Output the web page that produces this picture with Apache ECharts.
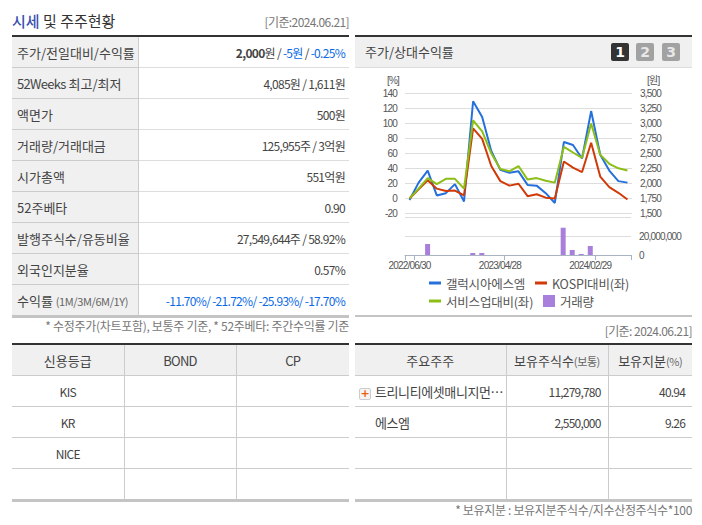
<!DOCTYPE html>
<html>
<head>
<meta charset="utf-8">
<script src="https://cdn.jsdelivr.net/npm/echarts@6/dist/echarts.min.js"></script>
<style>
  html, body { margin: 0; padding: 0; background: #fff; }
  body { width: 702px; height: 525px; position: relative; overflow: hidden;
    font-family: "Noto Sans CJK KR", "Noto Sans", sans-serif; font-size: 12px; color: #444; }
  .abs { position: absolute; white-space: nowrap; line-height: 16px; }
  .gray { color: #777; }
  table { position: absolute; border-collapse: collapse; table-layout: fixed; }
  td, th { font-weight: normal; padding: 0; overflow: hidden; white-space: nowrap; }
  .blue { color: #0a6ae6; }
  .tight { letter-spacing: -0.7px; }

  #summary { left: 12px; top: 37px; width: 337px; border-bottom: 3px solid #c4c4c4; }
  #summary td { height: 30px; border-bottom: 1px solid #ddd; text-align: right; padding-right: 4px; letter-spacing: -0.7px; }
  #summary td.lbl { background: #f0f0f0; text-align: left; padding: 0 0 0 5px; font-size: 13px; letter-spacing: 0;
    border-right: 1px solid #ccc; border-bottom-color: #ccc; }
  #summary tr:last-child td { border-bottom: 0; }
  .small { font-size: 11px; color: #666; letter-spacing: -0.4px; }

  .grid { top: 345px; width: 337px; border-bottom: 3px solid #c4c4c4; }
  .grid th { height: 30px; background: #f0f0f0; border-bottom: 1px solid #ccc; border-right: 1px solid #ccc; font-size: 13px; }
  .grid td { height: 30px; border-bottom: 1px solid #ccc; border-right: 1px solid #ccc; text-align: center; font-size: 12px; }
  .grid tr:last-child td { border-bottom: 0; }
  .grid th:last-child, .grid td:last-child { border-right: 0; }
  .grid td.num { text-align: right; padding-right: 7px; letter-spacing: -0.8px; }
  .grid td.name { text-align: left; padding-left: 20px; font-size: 13px; letter-spacing: -0.4px; }

  .bar { position: absolute; height: 2px; background: #333; }
  #chartHead { position: absolute; left: 355px; top: 37px; width: 337px; height: 30px; background: #f0f0f0; border-bottom: 1px solid #ddd; }
  .btn { position: absolute; top: 43px; width: 18px; height: 18px; border-radius: 2px; background: #a2a2a2; color: #e8e8e8;
    font: bold 14px/18px "DejaVu Sans", sans-serif; text-align: center; }
  #main { position: absolute; left: 355px; top: 68px; width: 337px; height: 247px; }
  /* svg text can be tightened from css, the reference font is much narrower */
  #main text { letter-spacing: -0.2px; }
  #main text[style*="Liberation"] { letter-spacing: -0.8px; }
  #chartFoot { position: absolute; left: 355px; top: 315px; width: 337px; height: 2px; background: #c4c4c4; }
  .plus { position: absolute; left: 359px; top: 388px; width: 10px; height: 10px; border: 1px solid #ccc; border-radius: 2px; background: #f4f4f4;
    color: #f06010; font: bold 11px/10px "DejaVu Sans", sans-serif; text-align: center; }
</style>
</head>
<body>
<div class="abs" style="left:12px;top:12px;font-size:15px;line-height:18px;color:#333"><b style="color:#3a4fb0;font-weight:500">시세</b> 및 주주현황</div>
<div class="abs gray" style="right:353px;top:14px;letter-spacing:-0.6px">[기준:2024.06.21]</div>
<div class="bar" style="left:12px;top:35px;width:337px"></div>
<table id="summary">
  <colgroup><col style="width:126px"><col></colgroup>
  <tr><td class="lbl">주가/전일대비/수익률</td><td><b>2,000</b>원 / <span class="blue">-5원</span> / <span class="blue">-0.25%</span></td></tr>
  <tr><td class="lbl"><span class="tight">52Weeks</span> 최고/최저</td><td>4,085원 / 1,611원</td></tr>
  <tr><td class="lbl">액면가</td><td>500원</td></tr>
  <tr><td class="lbl">거래량/거래대금</td><td>125,955주 / 3억원</td></tr>
  <tr><td class="lbl">시가총액</td><td>551억원</td></tr>
  <tr><td class="lbl">52주베타</td><td>0.90</td></tr>
  <tr><td class="lbl">발행주식수/유동비율</td><td>27,549,644주 / 58.92%</td></tr>
  <tr><td class="lbl">외국인지분율</td><td>0.57%</td></tr>
  <tr><td class="lbl">수익률 <span class="small">(1M/3M/6M/1Y)</span></td><td class="blue">-11.70%/ -21.72%/ -25.93%/ -17.70%</td></tr>
</table>
<div class="abs gray" style="right:353px;top:318px;letter-spacing:-0.3px">* 수정주가(차트포함), 보통주 기준, * 52주베타: 주간수익률 기준</div>

<div class="bar" style="left:355px;top:35px;width:337px"></div>
<div id="chartHead"></div>
<div class="abs" style="left:365px;top:44px;font-size:13px">주가/상대수익률</div>
<div class="btn" style="left:611px;background:#333;color:#fff">1</div>
<div class="btn" style="left:636px">2</div>
<div class="btn" style="left:662px">3</div>
<div id="main"></div>
<div id="chartFoot"></div>
<div class="abs gray" style="right:10px;top:323px;letter-spacing:-0.55px">[기준: 2024.06.21]</div>

<div class="bar" style="left:12px;top:343px;width:337px"></div>
<table class="grid" style="left:12px">
  <colgroup><col style="width:112px"><col style="width:112px"><col></colgroup>
  <tr><th>신용등급</th><th class="tight">BOND</th><th class="tight">CP</th></tr>
  <tr><td class="tight">KIS</td><td></td><td></td></tr>
  <tr><td class="tight">KR</td><td></td><td></td></tr>
  <tr><td class="tight">NICE</td><td></td><td></td></tr>
  <tr><td></td><td></td><td></td></tr>
</table>

<div class="bar" style="left:355px;top:343px;width:337px"></div>
<table class="grid" style="left:355px">
  <colgroup><col style="width:151px"><col style="width:102px"><col></colgroup>
  <tr><th>주요주주</th><th>보유주식수<span class="small">(보통)</span></th><th>보유지분<span class="small">(%)</span></th></tr>
  <tr><td class="name">트리니티에셋매니지먼…</td><td class="num">11,279,780</td><td class="num">40.94</td></tr>
  <tr><td class="name">에스엠</td><td class="num">2,550,000</td><td class="num">9.26</td></tr>
  <tr><td></td><td></td><td></td></tr>
  <tr><td></td><td></td><td></td></tr>
</table>
<div class="plus">+</div>
<div class="abs gray" style="right:10px;top:502px;letter-spacing:-0.33px">* 보유지분 : 보유지분주식수/지수산정주식수*100</div>

<script>
// Month-end dates on the shared x axis
const dates = [
  '2022/06/30', '2022/07/29', '2022/08/31', '2022/09/30', '2022/10/31',
  '2022/11/30', '2022/12/29', '2023/01/31', '2023/02/28', '2023/03/31',
  '2023/04/28', '2023/05/31', '2023/06/30', '2023/07/31', '2023/08/31',
  '2023/09/27', '2023/10/31', '2023/11/30', '2023/12/28', '2024/01/31',
  '2024/02/29', '2024/03/29', '2024/04/30', '2024/05/31', '2024/06/21'
];

const galaxiaSm = [-2, 21, 37, 4, 7, 19, -4, 129, 108, 63, 38, 34, 36, 18, 17, 7, -6, 75, 71, 53, 116, 58, 37, 23, 21];
const kospiRel = [0, 12, 24, 13, 10, 10.5, 4, 93, 79, 43, 23, 17, 19.5, 3, 5.5, 1, 0, 49, 41, 35, 74, 29, 15, 7.5, -1.5];
const serviceRel = [0, 13, 27, 19, 26, 26, 13, 103.5, 89, 60, 39, 36, 43, 25, 27, 23.5, 21, 68.5, 61, 54, 99.5, 58, 46, 40, 37];
const volume = [0, 0, 11600000, 0, 0, 0, 0, 2100000, 2100000, 0, 0, 0, 0, 0, 0, 0, 0, 28700000, 5300000, 1050000, 9500000, 0, 0, 0, 0];

const BLUE = '#2670dc';
const RED = '#d03a08';
const GREEN = '#8cbe16';
const PURPLE = '#a97fdc';
const TEXT = '#555';
const GRID = '#ddd';
const AXIS = '#a9b3c2';

const tickCats = [0, 1, 11, 21];
const labelFont = { color: TEXT, fontSize: 10, fontFamily: '"Liberation Sans", "Noto Sans CJK KR", sans-serif' };

function legendItem(name, left, top, h) {
  return {
    data: [name], left, top, icon: 'rect', itemWidth: 12, itemHeight: h, padding: 0,
    itemStyle: { borderWidth: 0 }, lineStyle: { width: 0 },
    textStyle: { color: TEXT, fontSize: 12.5, lineHeight: 14, fontFamily: '"Noto Sans CJK KR", sans-serif' }
  };
}

const chart = echarts.init(document.getElementById('main'), null, { renderer: 'svg' });
chart.setOption({
  animation: false,
  grid: [
    { left: 50, right: 60, top: 25, height: 120.5 },
    { left: 50, right: 60, top: 149, height: 38 }
  ],
  legend: [
    legendItem('갤럭시아에스엠', 74, 208, 3),
    legendItem('KOSPI대비(좌)', 180, 208, 3),
    legendItem('서비스업대비(좌)', 74, 226, 3),
    legendItem('거래량', 188, 226, 12)
  ],
  xAxis: [
    { type: 'category', gridIndex: 0, data: dates, axisLine: { show: false }, axisTick: { show: false }, axisLabel: { show: false } },
    {
      type: 'category', gridIndex: 1, data: dates,
      axisLine: { lineStyle: { color: AXIS } },
      axisTick: { show: true, length: 5, lineStyle: { color: AXIS }, interval: (i) => tickCats.includes(i) },
      axisLabel: { ...labelFont, margin: 5, interval: (i) => i % 10 === 0 }
    }
  ],
  yAxis: [
    {
      type: 'value', gridIndex: 0, min: -20, max: 140, interval: 20,
      name: '[%]', nameGap: 8, nameTextStyle: { ...labelFont, align: 'right', padding: [0, 6, 0, 0] },
      axisLine: { show: false }, axisTick: { show: false },
      axisLabel: { ...labelFont, margin: 8 }, splitLine: { lineStyle: { color: GRID, width: 1 } }
    },
    {
      type: 'value', gridIndex: 0, position: 'right', min: 1500, max: 3500, interval: 250,
      name: '[원]', nameGap: 8, nameTextStyle: { ...labelFont, align: 'left', padding: [0, 0, 0, 15] },
      axisLine: { show: false }, axisTick: { show: false },
      axisLabel: { ...labelFont, margin: 8, formatter: (v) => v.toLocaleString('en-US') }, splitLine: { show: false }
    },
    {
      type: 'value', gridIndex: 1, position: 'right', min: 0, max: 40000000, interval: 20000000,
      axisLine: { show: false }, axisTick: { show: false },
      axisLabel: { ...labelFont, margin: 8, showMaxLabel: false, formatter: (v) => v.toLocaleString('en-US') },
      splitLine: { lineStyle: { color: GRID, width: 1 } }
    }
  ],
  series: [
    { name: '갤럭시아에스엠', type: 'line', data: galaxiaSm, symbol: 'none', lineStyle: { color: BLUE, width: 2 }, itemStyle: { color: BLUE } },
    { name: 'KOSPI대비(좌)', type: 'line', data: kospiRel, symbol: 'none', lineStyle: { color: RED, width: 2 }, itemStyle: { color: RED } },
    { name: '서비스업대비(좌)', type: 'line', data: serviceRel, symbol: 'none', lineStyle: { color: GREEN, width: 2 }, itemStyle: { color: GREEN } },
    { name: '거래량', type: 'bar', xAxisIndex: 1, yAxisIndex: 2, data: volume, barWidth: 5, itemStyle: { color: PURPLE } }
  ]
});
</script>
</body>
</html>
